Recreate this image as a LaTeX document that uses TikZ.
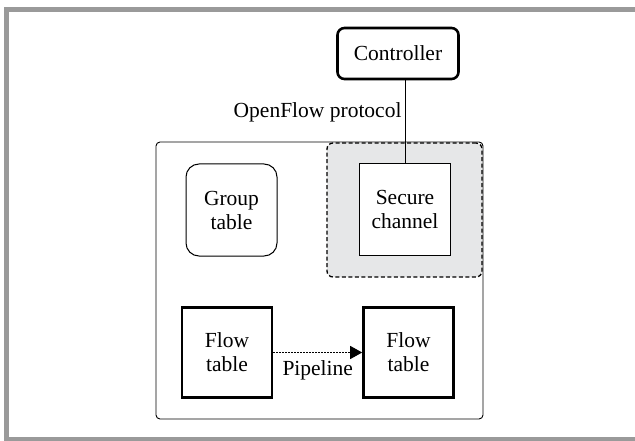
\documentclass[tikz,border=0pt]{standalone}
\usepackage{fontspec}
\setmainfont{Liberation Serif}
\usetikzlibrary{arrows.meta}
\definecolor{framegray}{RGB}{154,154,154}
\definecolor{shadegray}{RGB}{230,231,232}
\tikzset{
  lbl/.style={font=\fontsize{21.5pt}{24pt}\selectfont, align=center, inner sep=0pt},
  thickbox/.style={draw=black, line width=2.6pt, fill=white, minimum width=90pt, minimum height=90pt, lbl},
  thinbox/.style={draw=black, line width=1pt, fill=white, lbl},
}
\begin{document}
\begin{tikzpicture}[x=1pt,y=-1pt]
\useasboundingbox (0,0) rectangle (635,441);
% outer frame (right side cut off)
\draw[framegray, line width=5pt] (640,9.5) -- (6,9.5) -- (6,439) -- (640,439);
% switch box
\node[draw=black, line width=0.9pt, rounded corners=4pt, minimum width=327pt, minimum height=277pt, inner sep=0pt] (switch) at (319.5,280.5) {};
% shaded dashed secure area
\node[draw=black, dashed, dash pattern=on 4pt off 2.5pt, line width=1.3pt, fill=shadegray, rounded corners=6pt, minimum width=155pt, minimum height=134pt, inner sep=0pt] (secarea) at (404.5,210) {};
% controller
\node[draw=black, line width=2.6pt, rounded corners=7pt, fill=white, minimum width=121pt, minimum height=51pt, lbl] (ctrl) at (398,53.5) {Controller};
% secure channel
\node[thinbox, minimum width=91pt, minimum height=91pt] (sec) at (405,209.5) {Secure\\channel};
% group table
\node[thinbox, rounded corners=13pt, minimum width=91pt, minimum height=92pt] (grp) at (231.5,210) {Group\\table};
% flow tables
\node[thickbox] (ft1) at (227,352.5) {Flow\\table};
\node[thickbox] (ft2) at (408.5,352.5) {Flow\\table};
% connectors
\draw[line width=1pt] (sec.north) -- (sec.north |- ctrl.south) node[pos=0.62, left=3pt, lbl] (ofp) {OpenFlow protocol};
\draw[line width=1.2pt, dash pattern=on 2pt off 1pt, -{Triangle[length=12pt 0 0,width=13pt 0 0]}] (ft1.east) -- (ft2.west)
  node[midway, below=7pt, lbl] (pipe) {Pipeline};
\end{tikzpicture}
\end{document}
